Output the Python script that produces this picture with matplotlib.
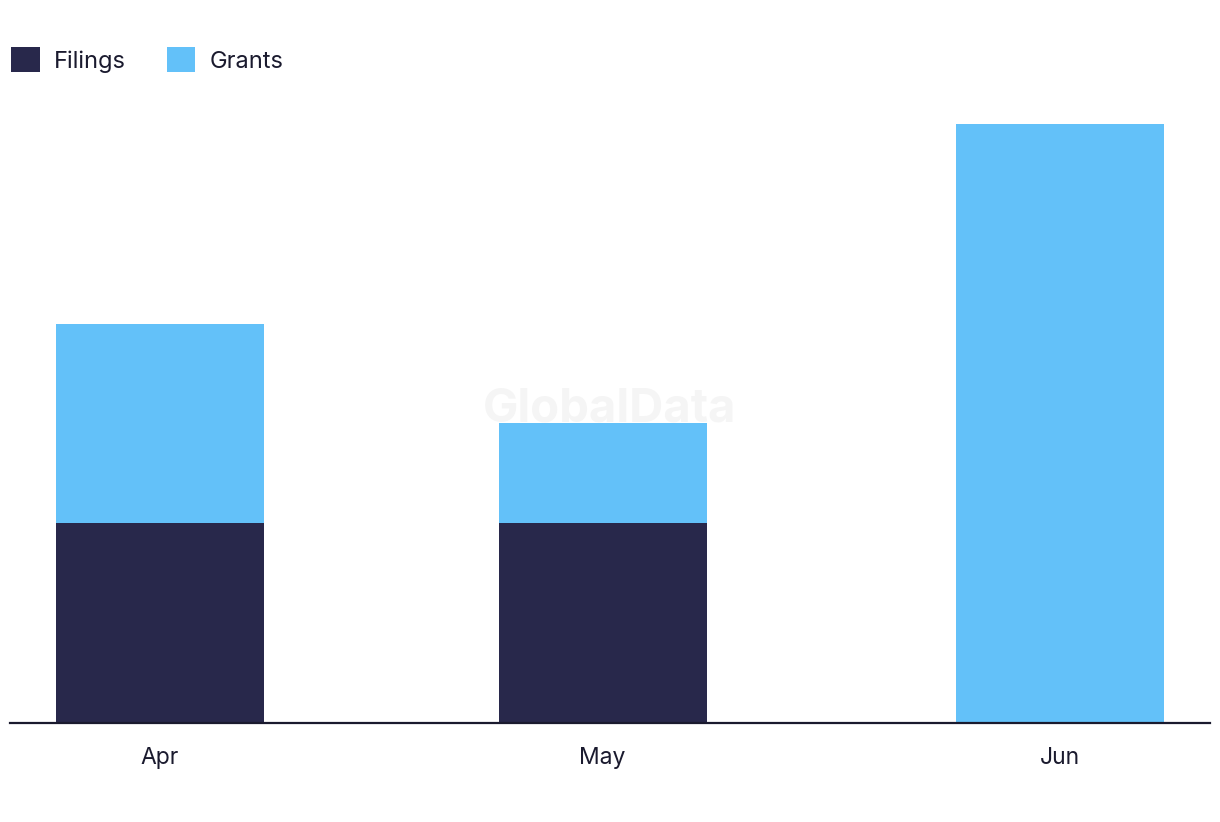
import datetime as dt
import matplotlib
matplotlib.use("Agg")
import matplotlib.pyplot as plt
import matplotlib.dates as mdates
from matplotlib.patches import Patch

plt.rcParams['font.family'] = ['Inter', 'DejaVu Sans']

months = [dt.date(2023, 4, 1), dt.date(2023, 5, 1), dt.date(2023, 6, 1)]
month_labels = ["Apr", "May", "Jun"]
filings = [2, 2, 0]
grants = [2, 1, 6]

dark = "#28284b"
light = "#63c1f9"

fig = plt.figure(figsize=(12.2, 8.22), dpi=100)
ax = fig.add_axes([10 / 1220, 1 - 723 / 822, 1200 / 1220, 599 / 822])

width = 14.1
ax.bar(months, filings, width=width, color=dark, zorder=2)
ax.bar(months, grants, width=width, bottom=filings, color=light, zorder=2)

ax.set_xlim(mdates.date2num(months[0]) - 10.17, mdates.date2num(months[-1]) + 10.17)
ax.set_ylim(0, 6)
ax.set_xticks(months)
ax.set_xticklabels(month_labels)
ax.tick_params(axis='x', length=0, pad=17, labelsize=16.5, labelcolor="#1a1a2e")
ax.set_yticks([])
for s in ["top", "right", "left"]:
    ax.spines[s].set_visible(False)
ax.spines["bottom"].set_color("#1a1a2e")
ax.spines["bottom"].set_linewidth(1.6)
ax.spines["bottom"].set_zorder(3)

# watermark
fig.text(610 / 1220, 1 - 410 / 822, "GlobalData", ha="center", va="center",
         fontsize=34, fontweight="bold", color="#d8d8d8", alpha=0.25, zorder=5)

handles = [Patch(facecolor=dark, label="Filings"), Patch(facecolor=light, label="Grants")]
fig.legend(handles=handles, loc="upper left", bbox_to_anchor=(2 / 1220, 1 - 38 / 822),
           ncol=2, frameon=False, fontsize=17, handlelength=1.2, handleheight=1.2,
           handletextpad=0.6, columnspacing=1.75, labelcolor="#1a1a2e", borderaxespad=0)

fig.savefig("out.png", dpi=100, facecolor="white")
